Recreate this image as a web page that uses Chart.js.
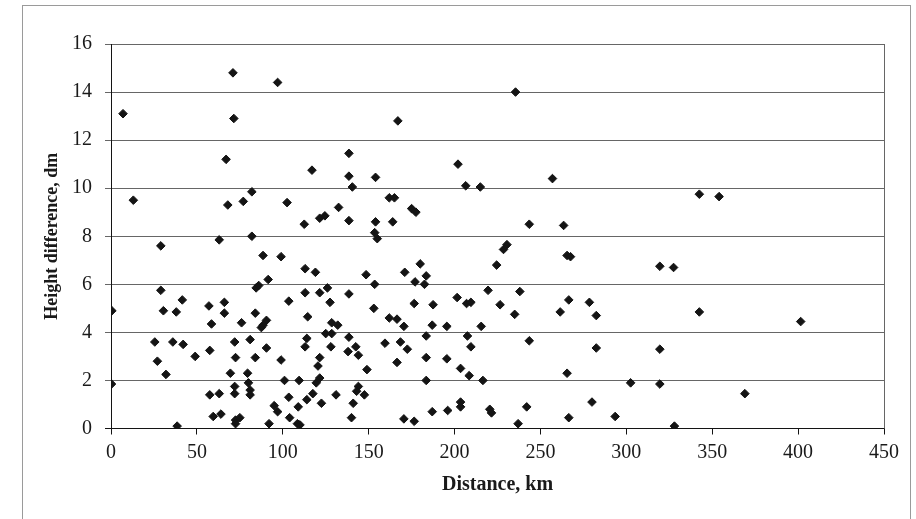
<!DOCTYPE html>
<html>
<head>
<meta charset="utf-8">
<script src="https://cdn.jsdelivr.net/npm/chart.js@4.4.1/dist/chart.umd.min.js"></script>
<style>
  html, body { margin: 0; padding: 0; background: #fff; overflow: hidden; }
  #wrap { position: relative; width: 916px; height: 519px; }
  #frame { position: absolute; left: 22px; top: 5px; width: 889px; height: 600px; border: 1px solid #9a9a9a; box-sizing: border-box; }
  canvas { position: absolute; left: 0; top: 0; }
</style>
</head>
<body>
<div id="wrap">
  <div id="frame"></div>
  <canvas id="scatterChart" width="916" height="519"></canvas>
</div>
<script>
// distance of each pair of points, km
const distances = [
     7, 13, 71, 97, 71.5, 67, 68, 77, 82, 102.5, 63, 82, 0.5, 0.3, 29, 88.5, 99, 29, 30.5, 41.5,
     38, 57, 66, 66, 58.5, 76, 84.5, 86, 91.5, 103.5, 84, 90.5, 88.5, 87.5, 25.5, 36, 42, 49, 57.5, 72,
     81, 72.5, 84, 90.5, 99, 27, 32, 69.5, 79.5, 80, 101, 109.5, 72, 72, 81, 81, 57.5, 63, 103.5, 95,
     97, 109, 59.5, 64, 72.5, 75, 72.5, 92, 104, 108.5, 38.5,
     167, 138.5, 117, 138.5, 154, 140.5, 202, 206.5, 215, 112.5, 121.5, 124.5, 132.5, 138.5, 154, 164, 162, 165, 175,
     177.5, 153.5, 155,
     113, 119, 148.5, 153.5, 171, 180, 183.5, 177, 182.5, 224.5, 228.5, 230.5, 113, 121.5, 126, 127.5, 138.5, 114.5, 153, 162,
     166.5, 170.5, 176.5, 187.5, 201.5, 207, 209.5, 219.5, 226.5, 187, 195.5, 215.5, 128.5, 132, 125, 128.5, 114, 113, 128, 138.5,
     138, 142.5, 144, 159.5, 168.5, 172.5, 183.5, 207.5, 209.5, 121.5, 120.5, 166.5, 183.5, 195.5, 203.5, 208.5, 216.5, 149, 121.5, 119.5,
     117.5, 114, 183.5, 122.5, 131, 144, 143, 147.5, 141, 110, 140, 170.5, 176.5, 187, 196, 203.5, 203.5, 220.5, 221.5,
     257, 342.5, 354, 243.5, 263.5, 265.5, 267.5, 319.5, 327.5, 238, 235, 266.5, 278.5, 261.5, 282.5, 342.5, 243.5, 282.5, 319.5, 265.5,
     302.5, 319.5, 242, 280, 266.5, 293.5, 237, 328, 401.5, 369, 235.5
]

// height difference of the same pairs, dm
const heights = [
     13.1, 9.5, 14.8, 14.4, 12.9, 11.2, 9.3, 9.45, 9.85, 9.4, 7.85, 8.0, 4.9, 1.85, 7.6, 7.2, 7.15, 5.75, 4.9, 5.35,
     4.85, 5.1, 5.25, 4.8, 4.35, 4.4, 5.85, 5.95, 6.2, 5.3, 4.8, 4.5, 4.3, 4.2, 3.6, 3.6, 3.5, 3.0, 3.25, 3.6,
     3.7, 2.95, 2.95, 3.35, 2.85, 2.8, 2.25, 2.3, 2.3, 1.9, 2.0, 2.0, 1.75, 1.45, 1.6, 1.4, 1.4, 1.45, 1.3, 0.95,
     0.7, 0.9, 0.5, 0.6, 0.35, 0.45, 0.2, 0.2, 0.45, 0.2, 0.1,
     12.8, 11.45, 10.75, 10.5, 10.45, 10.05, 11.0, 10.1, 10.05, 8.5, 8.75, 8.85, 9.2, 8.65, 8.6, 8.6, 9.6, 9.6, 9.15,
     9.0, 8.15, 7.9,
     6.65, 6.5, 6.4, 6.0, 6.5, 6.85, 6.35, 6.1, 6.0, 6.8, 7.45, 7.65, 5.65, 5.65, 5.85, 5.25, 5.6, 4.65, 5.0, 4.6,
     4.55, 4.25, 5.2, 5.15, 5.45, 5.2, 5.25, 5.75, 5.15, 4.3, 4.25, 4.25, 4.4, 4.3, 3.95, 3.95, 3.75, 3.4, 3.4, 3.8,
     3.2, 3.4, 3.05, 3.55, 3.6, 3.3, 3.85, 3.85, 3.4, 2.95, 2.6, 2.75, 2.95, 2.9, 2.5, 2.2, 2.0, 2.45, 2.1, 1.9,
     1.45, 1.2, 2.0, 1.05, 1.4, 1.75, 1.55, 1.4, 1.05, 0.15, 0.45, 0.4, 0.3, 0.7, 0.75, 1.1, 0.9, 0.8, 0.65,
     10.4, 9.75, 9.65, 8.5, 8.45, 7.2, 7.15, 6.75, 6.7, 5.7, 4.75, 5.35, 5.25, 4.85, 4.7, 4.85, 3.65, 3.35, 3.3, 2.3,
     1.9, 1.85, 0.9, 1.1, 0.45, 0.5, 0.2, 0.1, 4.45, 1.45, 14.0
]

// axis ranges and tick steps
const xRange = [0, 450]
const xStep = 50
const yRange = [0, 16]
const yStep = 2

const xTitle = 'Distance, km'
const yTitle = 'Height difference, dm'

const points = distances.map((d, i) => ({ x: d, y: heights[i] }))

const inkColor = '#141414'
const gridColor = '#666666'

Chart.defaults.font.family = "'Liberation Serif', 'Times New Roman', serif"
Chart.defaults.font.size = 20
Chart.defaults.color = '#1a1a1a'

// excel draws a thin box round the plot, the top is the last grid line, this adds the right side
const plotFrame = {
     id: 'plotFrame',
     beforeDatasetsDraw(chart) {
          const { ctx, chartArea } = chart
          const x = Math.round(chartArea.right) + 0.5
          ctx.save()
          ctx.strokeStyle = gridColor
          ctx.lineWidth = 1
          ctx.beginPath()
          ctx.moveTo(x, chartArea.top)
          ctx.lineTo(x, chartArea.bottom)
          ctx.stroke()
          ctx.restore()
     }
}

const scatterCtx = document.getElementById('scatterChart').getContext('2d')

new Chart(scatterCtx, {
     type: 'scatter',
     data: {
          datasets: [{
               data: points,
               pointStyle: 'rectRot',
               pointRadius: 4.3,
               pointHoverRadius: 4.3,
               backgroundColor: inkColor,
               borderColor: inkColor,
               borderWidth: 1
          }]
     },
     options: {
          responsive: false,
          animation: false,
          events: [],
          layout: {
               padding: { left: 0, right: 32, top: 44, bottom: 0 }
          },
          plugins: {
               legend: { display: false },
               tooltip: { enabled: false }
          },
          scales: {
               x: {
                    type: 'linear',
                    min: xRange[0],
                    max: xRange[1],
                    ticks: { stepSize: xStep, padding: 6 },
                    grid: { drawOnChartArea: false, tickLength: 6, color: inkColor },
                    border: { color: inkColor },
                    title: {
                         display: true,
                         text: xTitle,
                         font: { weight: 'bold', size: 20 },
                         padding: { top: 0, bottom: 22 }
                    },
                    afterFit: (scale) => { scale.height = 90.5 }
               },
               y: {
                    min: yRange[0],
                    max: yRange[1],
                    ticks: { stepSize: yStep, padding: 13 },
                    grid: {
                         tickLength: 6,
                         color: (ctx) => ctx.tick && ctx.tick.value === 0 ? inkColor : gridColor
                    },
                    border: { color: inkColor },
                    title: {
                         display: true,
                         text: yTitle,
                         font: { weight: 'bold', size: 18 },
                         padding: { top: 42, bottom: 0 }
                    },
                    afterFit: (scale) => { scale.width = 111 }
               }
          }
     },
     plugins: [plotFrame]
})
</script>
</body>
</html>
